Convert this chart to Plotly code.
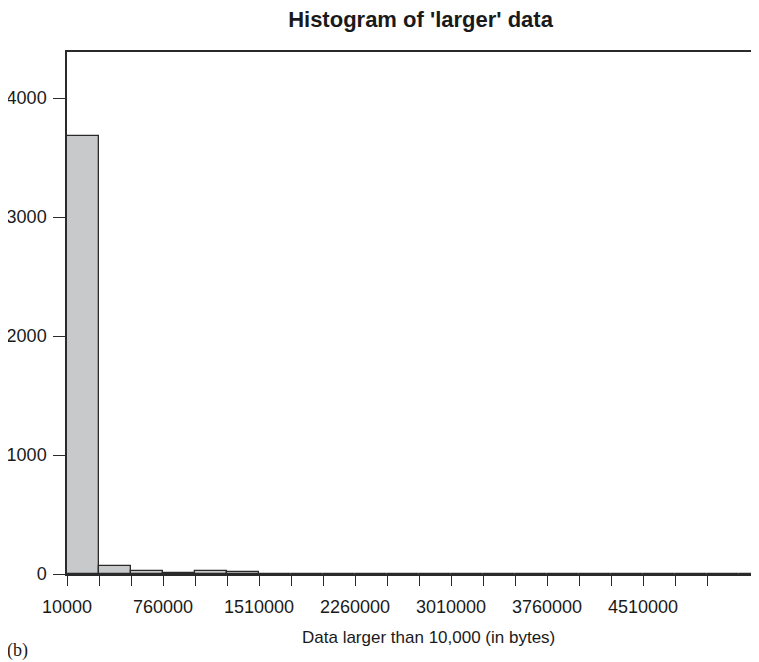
import plotly.graph_objects as go

bin_start = 10000
bin_width = 250000
counts = [3683, 68, 24, 9, 22, 16, 3, 2, 1, 2, 1, 1, 2, 1, 1, 0, 1, 1, 1, 2, 1, 1]
x_labels = ["10000", "760000", "1510000", "2260000", "3010000", "3760000", "4510000"]
y_ticks = [0, 1000, 2000, 3000, 4000]

edges = [bin_start + i * bin_width for i in range(len(counts))]
tickvals = [bin_start + i * bin_width for i in range(21)]
ticktext = [str(v) if str(v) in x_labels else "" for v in tickvals]

# page body has an 8px margin; figure coords = reference coords - 8
W, H = 751, 654
L, T, B, R = 59, 44, 88, 0
pw, ph = W - L - R, H - T - B

fig = go.Figure()
fig.add_trace(go.Bar(
    x=edges, y=counts, width=bin_width, offset=0,
    marker=dict(color="#c8c9cb", line=dict(color="#2a2a2a", width=1.3)),
    showlegend=False,
))

fig.update_layout(
    width=W, height=H,
    margin=dict(l=L, r=R, t=T, b=B, autoexpand=False),
    paper_bgcolor="white", plot_bgcolor="white",
    bargap=0,
    font=dict(family="Liberation Sans, Arial, sans-serif", size=18, color="#1a1a1a"),
    title=dict(text="<b>Histogram of 'larger' data</b>", x=412.5 / W, xanchor="center",
               y=1 - 11 / H, yanchor="middle", font=dict(size=22)),
    annotations=[
        dict(text="(b)", x=(10 - L) / pw, y=(H - B - 642) / ph,
             xref="paper", yref="paper", xanchor="center", yanchor="middle",
             showarrow=False, font=dict(family="Liberation Serif, serif", size=18)),
        dict(text="Data larger than 10,000 (in bytes)", x=(420 - L) / pw, y=(H - B - 629) / ph,
             xref="paper", yref="paper", xanchor="center", yanchor="middle",
             showarrow=False, font=dict(size=17)),
    ],
)
fig.update_xaxes(
    range=[bin_start, bin_start + pw / 32.0 * bin_width],
    tickmode="array", tickvals=tickvals, ticktext=ticktext,
    ticks="outside", ticklen=10, tickwidth=1.2, tickcolor="#2a2a2a",
    ticklabelstandoff=6,
    showline=True, linecolor="#2a2a2a", linewidth=1.5, mirror=True,
    showgrid=False, zeroline=False,
    tickfont=dict(size=18),
)
fig.update_yaxes(
    range=[0, 4387],
    tickvals=y_ticks,
    ticks="outside", ticklen=12, tickwidth=1.2, tickcolor="#2a2a2a",
    ticklabelstandoff=3,
    showline=True, linecolor="#2a2a2a", linewidth=1.5,
    showgrid=False, zeroline=False,
    tickfont=dict(size=18),
)

fig.write_html("out.html")
